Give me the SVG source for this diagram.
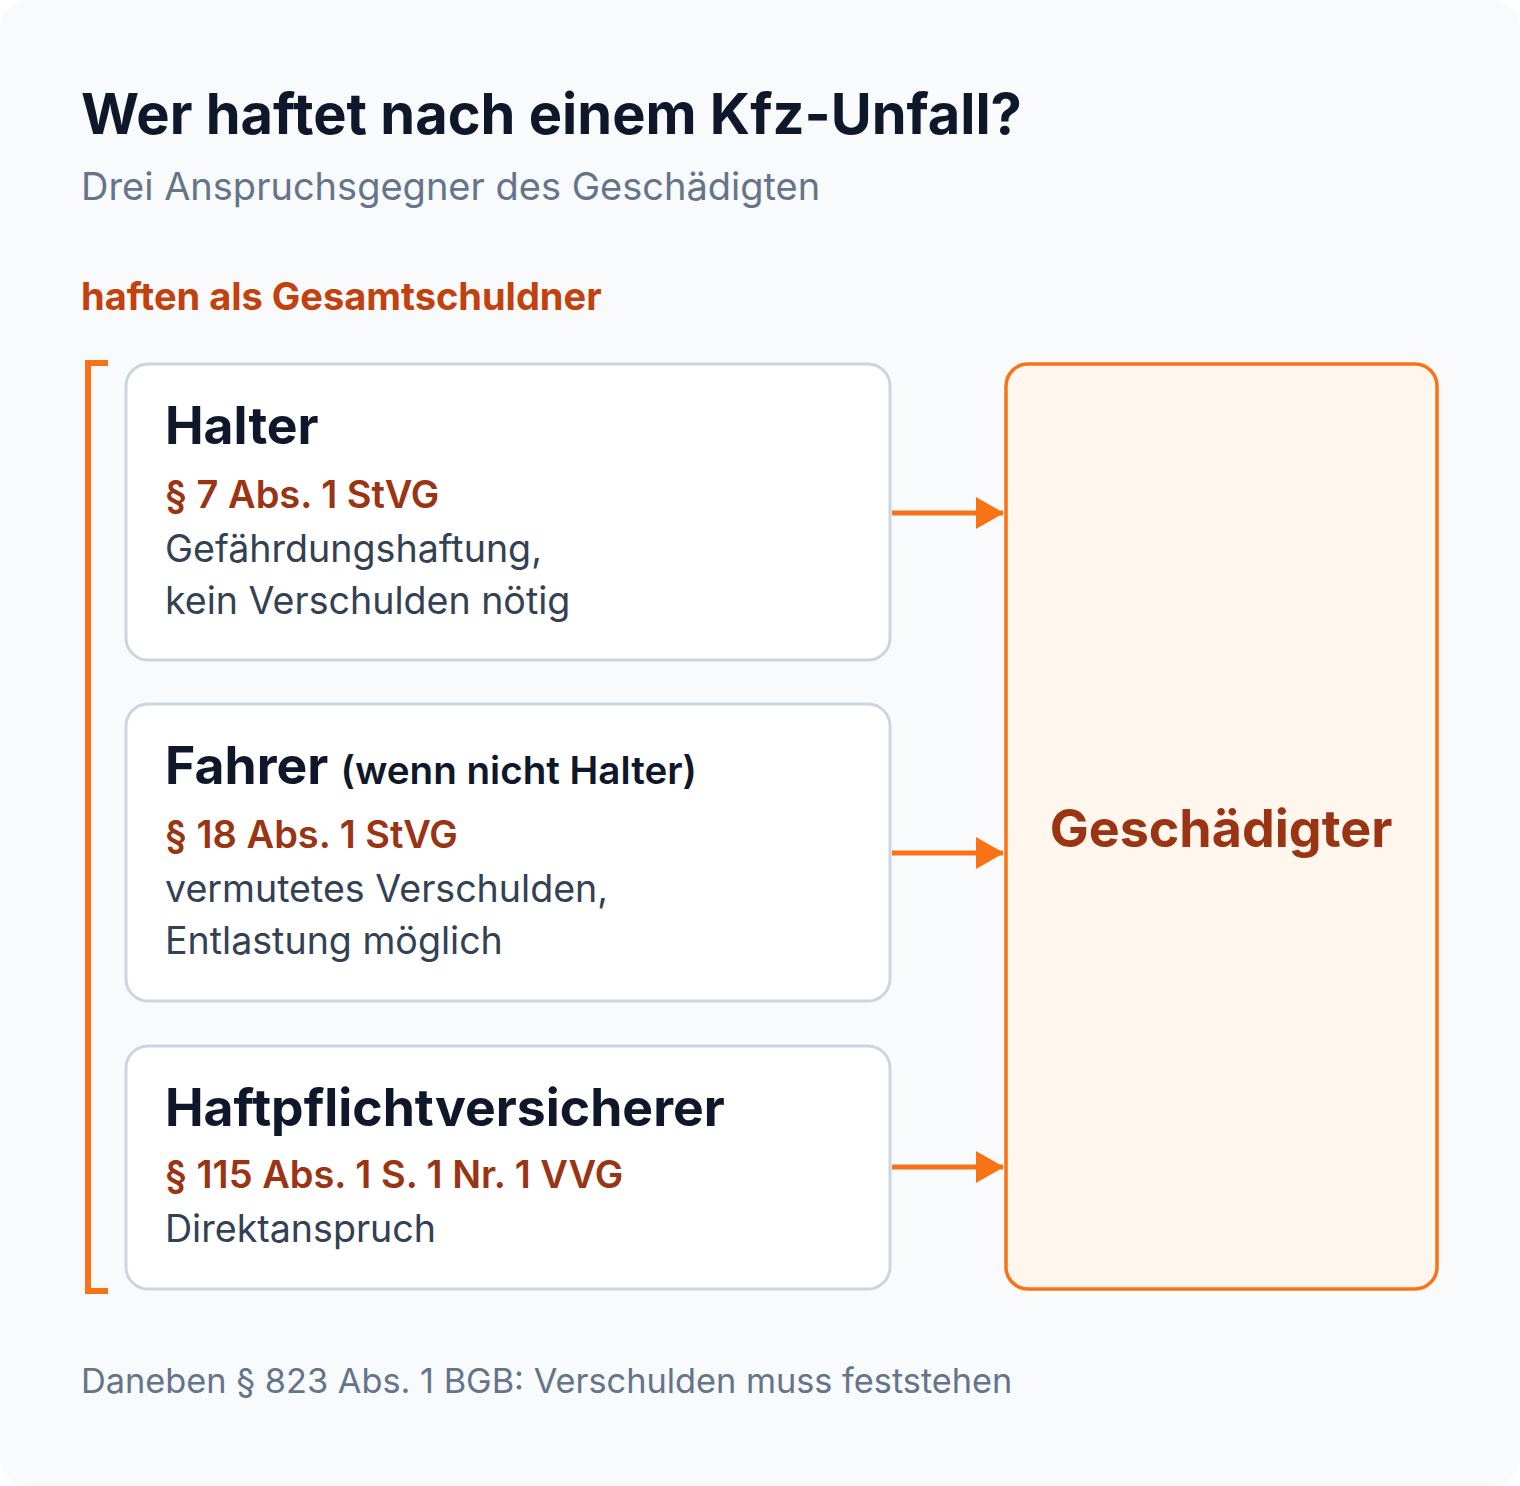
<svg xmlns="http://www.w3.org/2000/svg" width="1520" height="1486" viewBox="0 0 1520 1486">
<style>
text{font-family:Inter,"Noto Sans","Liberation Sans",sans-serif}
.card{fill:#ffffff;stroke:#cbd5e1;stroke-width:3}
.ttl{font-size:51.7px;font-weight:700;fill:#0f172a}
.law{font-size:38px;font-weight:600;fill:#9a3412}
.body{font-size:37.6px;fill:#334155}
.conn{stroke:#f97316;stroke-width:5;fill:none}
</style>
<defs>
<marker id="ah" markerWidth="28" markerHeight="32" refX="27" refY="16" orient="auto" markerUnits="userSpaceOnUse">
<path d="M0,0 L28,16 L0,32 Z" fill="#f97316"/>
</marker>
</defs>
<rect x="0" y="0" width="1520" height="1486" rx="28" fill="#f8fafc"/>
<text x="81" y="134" font-size="56" font-weight="700" fill="#0f172a">Wer haftet nach einem Kfz-Unfall?</text>
<text x="81" y="200" font-size="38" fill="#64748b">Drei Anspruchsgegner des Geschädigten</text>
<text x="81" y="310" font-size="38" font-weight="700" fill="#c2410c">haften als Gesamtschuldner</text>
<path d="M108,363 H88 V1291 H108" stroke="#f97316" stroke-width="6" fill="none"/>
<g id="halter">
<rect class="card" x="126" y="364" width="764" height="296" rx="22"/>
<text class="ttl" x="165" y="444">Halter</text>
<text class="law" x="165" y="508">§ 7 Abs. 1 StVG</text>
<text class="body" x="165" y="562">Gefährdungshaftung,</text>
<text class="body" x="165" y="614">kein Verschulden nötig</text>
</g>
<g id="fahrer">
<rect class="card" x="126" y="704" width="764" height="297" rx="22"/>
<text class="ttl" x="165" y="784">Fahrer <tspan font-size="38.6" font-weight="600">(wenn nicht Halter)</tspan></text>
<text class="law" x="165" y="848">§ 18 Abs. 1 StVG</text>
<text class="body" x="165" y="902">vermutetes Verschulden,</text>
<text class="body" x="165" y="954">Entlastung möglich</text>
</g>
<g id="versicherer">
<rect class="card" x="126" y="1046" width="764" height="243" rx="22"/>
<text class="ttl" x="165" y="1126">Haftpflichtversicherer</text>
<text class="law" x="165" y="1188">§ 115 Abs. 1 S. 1 Nr. 1 VVG</text>
<text class="body" x="165" y="1242">Direktanspruch</text>
</g>
<g id="geschaedigter">
<rect x="1006" y="364" width="431" height="925" rx="22" fill="#fff7ed" stroke="#f97316" stroke-width="3.5"/>
<text x="1221" y="847" font-size="52" font-weight="700" fill="#9a3412" text-anchor="middle">Geschädigter</text>
</g>
<g id="connectors">
<line class="conn" x1="892" y1="513" x2="1003" y2="513" marker-end="url(#ah)"/>
<line class="conn" x1="892" y1="853" x2="1003" y2="853" marker-end="url(#ah)"/>
<line class="conn" x1="892" y1="1167" x2="1003" y2="1167" marker-end="url(#ah)"/>
</g>
<text x="81" y="1393" font-size="34.3" fill="#64748b">Daneben § 823 Abs. 1 BGB: Verschulden muss feststehen</text>
</svg>
